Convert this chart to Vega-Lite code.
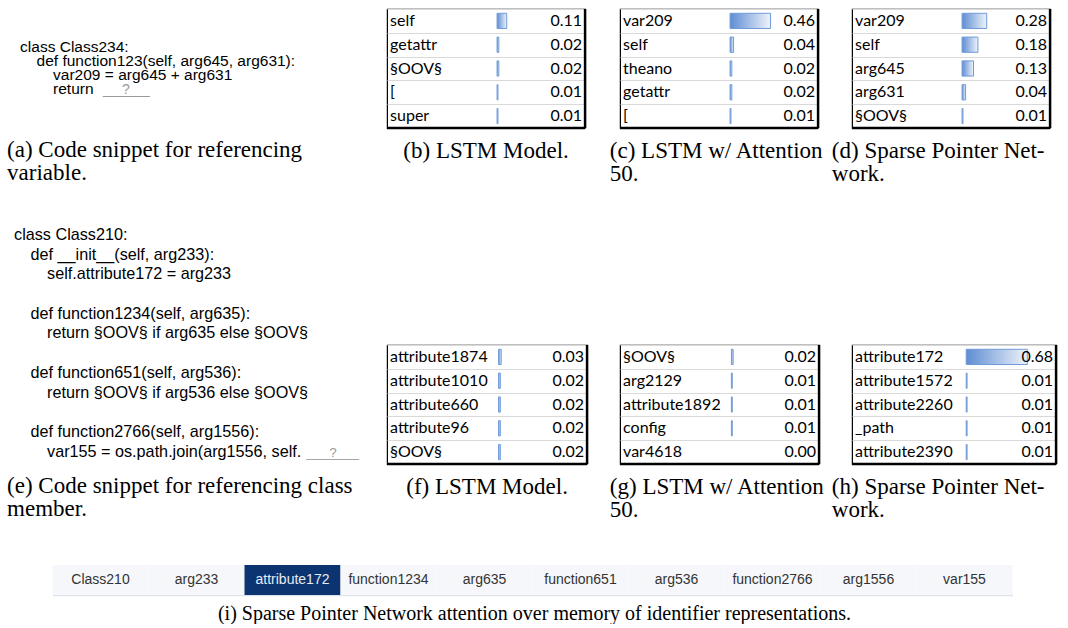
{
  "$schema": "https://vega.github.io/schema/vega-lite/v6.json",
  "background": "white",
  "padding": {"left": 7, "top": 7, "right": 0, "bottom": 0},
  "center": true,
  "spacing": 42,
  "config": {
    "view": {"stroke": null},
    "title": {"font": "Liberation Serif", "fontSize": 23, "fontWeight": "normal", "color": "#000000", "orient": "bottom", "anchor": "start", "offset": 11, "lineHeight": 23}
  },
  "vconcat": [
    {
      "bounds": "flush",
      "columns": 4,
      "spacing": {"row": 217, "column": 33},
      "concat": [
        {
          "width": 347, "height": 119,
          "data": {"values": [
            {"line": 0, "col": 0, "t": "class Class234:", "k": "code"},
            {"line": 1, "col": 1, "t": "def function123(self, arg645, arg631):", "k": "code"},
            {"line": 2, "col": 2, "t": "var209 = arg645 + arg631", "k": "code"},
            {"line": 3, "col": 2, "t": "return", "k": "code"},
            {"line": 3, "col": 5.03, "t": "______", "k": "blank"},
            {"line": 3, "col": 6.18, "t": "?", "k": "blank"}
          ]},
          "encoding": {
            "x": {"field": "col", "type": "quantitative", "scale": {"domain": [-0.788, 20.24], "nice": false}, "axis": null},
            "y": {"field": "line", "type": "quantitative", "scale": {"domain": [-3.071, 5.429], "reverse": true, "nice": false}, "axis": null},
            "text": {"field": "t"}
          },
          "layer": [
            {"transform": [{"filter": "datum.k == 'blank'"}], "mark": {"type": "text", "align": "left", "baseline": "alphabetic", "font": "Liberation Sans", "fontSize": 14, "color": "#9a9a9a"}},
            {"transform": [{"filter": "datum.k == 'code'"}], "mark": {"type": "text", "align": "left", "baseline": "alphabetic", "font": "Liberation Sans", "fontSize": 15.5, "color": "#000000"}}
          ],
          "title": {"text": ["(a) Code snippet for referencing", "variable."]}
        },
        {
          "width": 198, "height": 119,
          "view": {"stroke": "#000000", "strokeWidth": 1.2},
          "data": {"values": [
            {"r": 1, "tok": "self", "p": 0.11},
            {"r": 2, "tok": "getattr", "p": 0.02},
            {"r": 3, "tok": "§OOV§", "p": 0.02},
            {"r": 4, "tok": "[", "p": 0.01},
            {"r": 5, "tok": "super", "p": 0.01}
          ]},
          "encoding": {"y": {"field": "r", "type": "ordinal", "scale": {"paddingInner": 0, "paddingOuter": 0}, "axis": {"title": null, "labels": false, "ticks": false, "domain": false, "grid": true, "gridColor": "#d9d9d9", "gridWidth": 1, "tickBand": "extent"}}},
          "layer": [
            {"mark": {"type": "bar", "height": {"band": 0.64}, "fill": {"gradient": "linear", "x1": 0, "y1": 0, "x2": 1, "y2": 0, "stops": [{"offset": 0, "color": "#5f8dd3"}, {"offset": 1, "color": "#eef3fa"}]}, "stroke": "#6f9bd8", "strokeWidth": 1},
             "encoding": {"x": {"field": "p", "type": "quantitative", "scale": {"domain": [-1.25, 1], "nice": false}, "axis": null}, "opacity": {"condition": {"test": "datum.p > 0", "value": 1}, "value": 0}}},
            {"mark": {"type": "text", "align": "left", "baseline": "middle", "dx": 3, "font": "Lato", "fontSize": 16, "color": "#000000"}, "encoding": {"x": {"value": 0}, "text": {"field": "tok"}}},
            {"mark": {"type": "text", "align": "right", "baseline": "middle", "dx": -3, "font": "Lato", "fontSize": 16, "color": "#000000"}, "encoding": {"x": {"value": "width"}, "text": {"field": "p", "format": ".2f"}}},
            {"data": {"values": [{}]}, "mark": {"type": "rule", "color": "#000000", "strokeWidth": 2.5}, "encoding": {"x": {"value": "width"}, "y": {"value": 0}, "y2": {"value": "height"}}},
            {"data": {"values": [{}]}, "mark": {"type": "rule", "color": "#000000", "strokeWidth": 2.5}, "encoding": {"y": {"value": "height"}, "x": {"value": 0}, "x2": {"value": "width"}}}
          ],
          "title": {"text": "(b) LSTM Model.", "anchor": "middle"}
        },
        {
          "width": 198, "height": 119,
          "view": {"stroke": "#000000", "strokeWidth": 1.2},
          "data": {"values": [
            {"r": 1, "tok": "var209", "p": 0.46},
            {"r": 2, "tok": "self", "p": 0.04},
            {"r": 3, "tok": "theano", "p": 0.02},
            {"r": 4, "tok": "getattr", "p": 0.02},
            {"r": 5, "tok": "[", "p": 0.01}
          ]},
          "encoding": {"y": {"field": "r", "type": "ordinal", "scale": {"paddingInner": 0, "paddingOuter": 0}, "axis": {"title": null, "labels": false, "ticks": false, "domain": false, "grid": true, "gridColor": "#d9d9d9", "gridWidth": 1, "tickBand": "extent"}}},
          "layer": [
            {"mark": {"type": "bar", "height": {"band": 0.64}, "fill": {"gradient": "linear", "x1": 0, "y1": 0, "x2": 1, "y2": 0, "stops": [{"offset": 0, "color": "#5f8dd3"}, {"offset": 1, "color": "#eef3fa"}]}, "stroke": "#6f9bd8", "strokeWidth": 1},
             "encoding": {"x": {"field": "p", "type": "quantitative", "scale": {"domain": [-1.25, 1], "nice": false}, "axis": null}, "opacity": {"condition": {"test": "datum.p > 0", "value": 1}, "value": 0}}},
            {"mark": {"type": "text", "align": "left", "baseline": "middle", "dx": 3, "font": "Lato", "fontSize": 16, "color": "#000000"}, "encoding": {"x": {"value": 0}, "text": {"field": "tok"}}},
            {"mark": {"type": "text", "align": "right", "baseline": "middle", "dx": -3, "font": "Lato", "fontSize": 16, "color": "#000000"}, "encoding": {"x": {"value": "width"}, "text": {"field": "p", "format": ".2f"}}},
            {"data": {"values": [{}]}, "mark": {"type": "rule", "color": "#000000", "strokeWidth": 2.5}, "encoding": {"x": {"value": "width"}, "y": {"value": 0}, "y2": {"value": "height"}}},
            {"data": {"values": [{}]}, "mark": {"type": "rule", "color": "#000000", "strokeWidth": 2.5}, "encoding": {"y": {"value": "height"}, "x": {"value": 0}, "x2": {"value": "width"}}}
          ],
          "title": {"text": ["(c) LSTM w/ Attention", "50."], "dx": -9}
        },
        {
          "width": 198, "height": 119,
          "view": {"stroke": "#000000", "strokeWidth": 1.2},
          "data": {"values": [
            {"r": 1, "tok": "var209", "p": 0.28},
            {"r": 2, "tok": "self", "p": 0.18},
            {"r": 3, "tok": "arg645", "p": 0.13},
            {"r": 4, "tok": "arg631", "p": 0.04},
            {"r": 5, "tok": "§OOV§", "p": 0.01}
          ]},
          "encoding": {"y": {"field": "r", "type": "ordinal", "scale": {"paddingInner": 0, "paddingOuter": 0}, "axis": {"title": null, "labels": false, "ticks": false, "domain": false, "grid": true, "gridColor": "#d9d9d9", "gridWidth": 1, "tickBand": "extent"}}},
          "layer": [
            {"mark": {"type": "bar", "height": {"band": 0.64}, "fill": {"gradient": "linear", "x1": 0, "y1": 0, "x2": 1, "y2": 0, "stops": [{"offset": 0, "color": "#5f8dd3"}, {"offset": 1, "color": "#eef3fa"}]}, "stroke": "#6f9bd8", "strokeWidth": 1},
             "encoding": {"x": {"field": "p", "type": "quantitative", "scale": {"domain": [-1.25, 1], "nice": false}, "axis": null}, "opacity": {"condition": {"test": "datum.p > 0", "value": 1}, "value": 0}}},
            {"mark": {"type": "text", "align": "left", "baseline": "middle", "dx": 3, "font": "Lato", "fontSize": 16, "color": "#000000"}, "encoding": {"x": {"value": 0}, "text": {"field": "tok"}}},
            {"mark": {"type": "text", "align": "right", "baseline": "middle", "dx": -3, "font": "Lato", "fontSize": 16, "color": "#000000"}, "encoding": {"x": {"value": "width"}, "text": {"field": "p", "format": ".2f"}}},
            {"data": {"values": [{}]}, "mark": {"type": "rule", "color": "#000000", "strokeWidth": 2.5}, "encoding": {"x": {"value": "width"}, "y": {"value": 0}, "y2": {"value": "height"}}},
            {"data": {"values": [{}]}, "mark": {"type": "rule", "color": "#000000", "strokeWidth": 2.5}, "encoding": {"y": {"value": "height"}, "x": {"value": 0}, "x2": {"value": "width"}}}
          ],
          "title": {"text": ["(d) Sparse Pointer Net-", "work."], "dx": -19}
        },
        {
          "width": 347, "height": 119,
          "data": {"values": [
            {"line": 0, "col": 0, "t": "class Class210:", "k": "code"},
            {"line": 1, "col": 1, "t": "def __init__(self, arg233):", "k": "code"},
            {"line": 2, "col": 2, "t": "self.attribute172 = arg233", "k": "code"},
            {"line": 4, "col": 1, "t": "def function1234(self, arg635):", "k": "code"},
            {"line": 5, "col": 2, "t": "return §OOV§ if arg635 else §OOV§", "k": "code"},
            {"line": 7, "col": 1, "t": "def function651(self, arg536):", "k": "code"},
            {"line": 8, "col": 2, "t": "return §OOV§ if arg536 else §OOV§", "k": "code"},
            {"line": 10, "col": 1, "t": "def function2766(self, arg1556):", "k": "code"},
            {"line": 11, "col": 2, "t": "var155 = os.path.join(arg1556, self.", "k": "code"},
            {"line": 11, "col": 17.7, "t": "_______", "k": "blank"},
            {"line": 11, "col": 19.1, "t": "?", "k": "blank"}
          ]},
          "encoding": {
            "x": {"field": "col", "type": "quantitative", "scale": {"domain": [-0.424, 20.6], "nice": false}, "axis": null},
            "y": {"field": "line", "type": "quantitative", "scale": {"domain": [5.33, 11.37], "reverse": true, "nice": false}, "axis": null},
            "text": {"field": "t"}
          },
          "layer": [
            {"transform": [{"filter": "datum.k == 'blank'"}], "mark": {"type": "text", "align": "left", "baseline": "alphabetic", "font": "Liberation Sans", "fontSize": 13.5, "color": "#9a9a9a"}},
            {"transform": [{"filter": "datum.k == 'code'"}], "mark": {"type": "text", "align": "left", "baseline": "alphabetic", "font": "Liberation Sans", "fontSize": 16.2, "color": "#000000"}}
          ],
          "title": {"text": ["(e) Code snippet for referencing class", "member."]}
        },
        {
          "width": 200, "height": 119,
          "view": {"stroke": "#000000", "strokeWidth": 1.2},
          "data": {"values": [
            {"r": 1, "tok": "attribute1874", "p": 0.03},
            {"r": 2, "tok": "attribute1010", "p": 0.02},
            {"r": 3, "tok": "attribute660", "p": 0.02},
            {"r": 4, "tok": "attribute96", "p": 0.02},
            {"r": 5, "tok": "§OOV§", "p": 0.02}
          ]},
          "encoding": {"y": {"field": "r", "type": "ordinal", "scale": {"paddingInner": 0, "paddingOuter": 0}, "axis": {"title": null, "labels": false, "ticks": false, "domain": false, "grid": true, "gridColor": "#d9d9d9", "gridWidth": 1, "tickBand": "extent"}}},
          "layer": [
            {"mark": {"type": "bar", "height": {"band": 0.64}, "fill": {"gradient": "linear", "x1": 0, "y1": 0, "x2": 1, "y2": 0, "stops": [{"offset": 0, "color": "#5f8dd3"}, {"offset": 1, "color": "#eef3fa"}]}, "stroke": "#6f9bd8", "strokeWidth": 1},
             "encoding": {"x": {"field": "p", "type": "quantitative", "scale": {"domain": [-1.26, 1], "nice": false}, "axis": null}, "opacity": {"condition": {"test": "datum.p > 0", "value": 1}, "value": 0}}},
            {"mark": {"type": "text", "align": "left", "baseline": "middle", "dx": 3, "font": "Lato", "fontSize": 16, "color": "#000000"}, "encoding": {"x": {"value": 0}, "text": {"field": "tok"}}},
            {"mark": {"type": "text", "align": "right", "baseline": "middle", "dx": -3, "font": "Lato", "fontSize": 16, "color": "#000000"}, "encoding": {"x": {"value": "width"}, "text": {"field": "p", "format": ".2f"}}},
            {"data": {"values": [{}]}, "mark": {"type": "rule", "color": "#000000", "strokeWidth": 2.5}, "encoding": {"x": {"value": "width"}, "y": {"value": 0}, "y2": {"value": "height"}}},
            {"data": {"values": [{}]}, "mark": {"type": "rule", "color": "#000000", "strokeWidth": 2.5}, "encoding": {"y": {"value": "height"}, "x": {"value": 0}, "x2": {"value": "width"}}}
          ],
          "title": {"text": "(f) LSTM Model.", "anchor": "middle"}
        },
        {
          "width": 199, "height": 119,
          "view": {"stroke": "#000000", "strokeWidth": 1.2},
          "data": {"values": [
            {"r": 1, "tok": "§OOV§", "p": 0.02},
            {"r": 2, "tok": "arg2129", "p": 0.01},
            {"r": 3, "tok": "attribute1892", "p": 0.01},
            {"r": 4, "tok": "config", "p": 0.01},
            {"r": 5, "tok": "var4618", "p": 0.0}
          ]},
          "encoding": {"y": {"field": "r", "type": "ordinal", "scale": {"paddingInner": 0, "paddingOuter": 0}, "axis": {"title": null, "labels": false, "ticks": false, "domain": false, "grid": true, "gridColor": "#d9d9d9", "gridWidth": 1, "tickBand": "extent"}}},
          "layer": [
            {"mark": {"type": "bar", "height": {"band": 0.64}, "fill": {"gradient": "linear", "x1": 0, "y1": 0, "x2": 1, "y2": 0, "stops": [{"offset": 0, "color": "#5f8dd3"}, {"offset": 1, "color": "#eef3fa"}]}, "stroke": "#6f9bd8", "strokeWidth": 1},
             "encoding": {"x": {"field": "p", "type": "quantitative", "scale": {"domain": [-1.27, 1], "nice": false}, "axis": null}, "opacity": {"condition": {"test": "datum.p > 0", "value": 1}, "value": 0}}},
            {"mark": {"type": "text", "align": "left", "baseline": "middle", "dx": 3, "font": "Lato", "fontSize": 16, "color": "#000000"}, "encoding": {"x": {"value": 0}, "text": {"field": "tok"}}},
            {"mark": {"type": "text", "align": "right", "baseline": "middle", "dx": -3, "font": "Lato", "fontSize": 16, "color": "#000000"}, "encoding": {"x": {"value": "width"}, "text": {"field": "p", "format": ".2f"}}},
            {"data": {"values": [{}]}, "mark": {"type": "rule", "color": "#000000", "strokeWidth": 2.5}, "encoding": {"x": {"value": "width"}, "y": {"value": 0}, "y2": {"value": "height"}}},
            {"data": {"values": [{}]}, "mark": {"type": "rule", "color": "#000000", "strokeWidth": 2.5}, "encoding": {"y": {"value": "height"}, "x": {"value": 0}, "x2": {"value": "width"}}}
          ],
          "title": {"text": ["(g) LSTM w/ Attention", "50."], "dx": -9}
        },
        {
          "width": 204, "height": 119,
          "view": {"stroke": "#000000", "strokeWidth": 1.2},
          "data": {"values": [
            {"r": 1, "tok": "attribute172", "p": 0.68},
            {"r": 2, "tok": "attribute1572", "p": 0.01},
            {"r": 3, "tok": "attribute2260", "p": 0.01},
            {"r": 4, "tok": "_path", "p": 0.01},
            {"r": 5, "tok": "attribute2390", "p": 0.01}
          ]},
          "encoding": {"y": {"field": "r", "type": "ordinal", "scale": {"paddingInner": 0, "paddingOuter": 0}, "axis": {"title": null, "labels": false, "ticks": false, "domain": false, "grid": true, "gridColor": "#d9d9d9", "gridWidth": 1, "tickBand": "extent"}}},
          "layer": [
            {"mark": {"type": "bar", "height": {"band": 0.64}, "fill": {"gradient": "linear", "x1": 0, "y1": 0, "x2": 1, "y2": 0, "stops": [{"offset": 0, "color": "#5f8dd3"}, {"offset": 1, "color": "#eef3fa"}]}, "stroke": "#6f9bd8", "strokeWidth": 1},
             "encoding": {"x": {"field": "p", "type": "quantitative", "scale": {"domain": [-1.27, 1], "nice": false}, "axis": null}, "opacity": {"condition": {"test": "datum.p > 0", "value": 1}, "value": 0}}},
            {"mark": {"type": "text", "align": "left", "baseline": "middle", "dx": 3, "font": "Lato", "fontSize": 16, "color": "#000000"}, "encoding": {"x": {"value": 0}, "text": {"field": "tok"}}},
            {"mark": {"type": "text", "align": "right", "baseline": "middle", "dx": -3, "font": "Lato", "fontSize": 16, "color": "#000000"}, "encoding": {"x": {"value": "width"}, "text": {"field": "p", "format": ".2f"}}},
            {"data": {"values": [{}]}, "mark": {"type": "rule", "color": "#000000", "strokeWidth": 2.5}, "encoding": {"x": {"value": "width"}, "y": {"value": 0}, "y2": {"value": "height"}}},
            {"data": {"values": [{}]}, "mark": {"type": "rule", "color": "#000000", "strokeWidth": 2.5}, "encoding": {"y": {"value": "height"}, "x": {"value": 0}, "x2": {"value": "width"}}}
          ],
          "title": {"text": ["(h) Sparse Pointer Net-", "work."], "dx": -19}
        }
      ]
    },
    {
      "width": 960, "height": 30,
      "data": {"values": [
        {"id": "Class210", "w": 0},
        {"id": "arg233", "w": 0},
        {"id": "attribute172", "w": 1},
        {"id": "function1234", "w": 0},
        {"id": "arg635", "w": 0},
        {"id": "function651", "w": 0},
        {"id": "arg536", "w": 0},
        {"id": "function2766", "w": 0},
        {"id": "arg1556", "w": 0},
        {"id": "var155", "w": 0}
      ]},
      "encoding": {"x": {"field": "id", "type": "nominal", "sort": null, "scale": {"paddingInner": 0, "paddingOuter": 0}, "axis": {"title": null, "labels": false, "ticks": false, "grid": false, "domain": true, "domainColor": "#dde3ea", "domainWidth": 1.5}}},
      "layer": [
        {"mark": {"type": "bar"}, "encoding": {"color": {"field": "w", "type": "quantitative", "scale": {"domain": [0, 1], "range": ["#f5f7fa", "#0b3470"]}, "legend": null}}},
        {"mark": {"type": "text", "baseline": "middle", "font": "Liberation Sans", "fontSize": 14}, "encoding": {"text": {"field": "id"}, "color": {"condition": {"test": "datum.w > 0.5", "value": "#e6ecf5"}, "value": "#333333"}}}
      ],
      "title": {"text": "(i) Sparse Pointer Network attention over memory of identifier representations.", "anchor": "middle", "fontSize": 20, "offset": 9, "dx": 2}
    }
  ]
}
